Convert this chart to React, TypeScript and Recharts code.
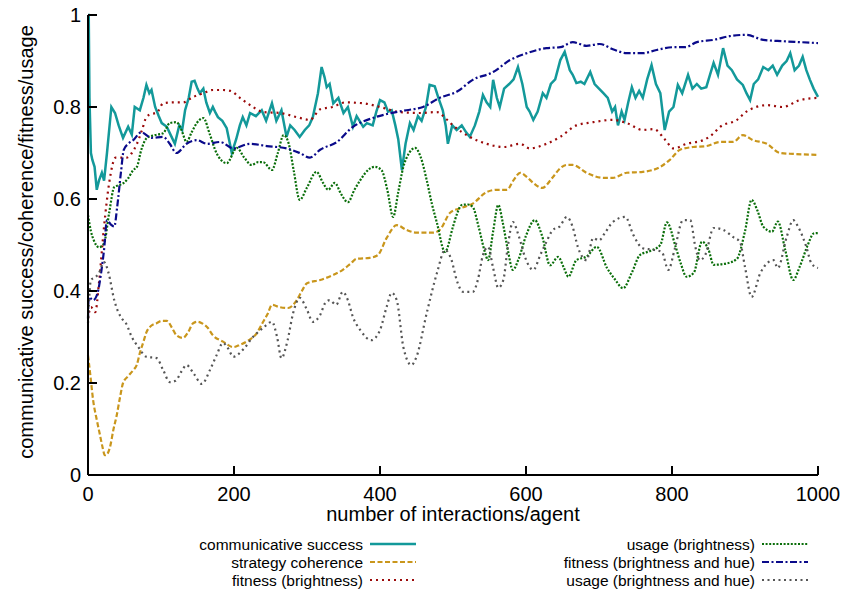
import React from "react";
import { LineChart, Line, XAxis, YAxis, Label } from "recharts";

// sampled from the reference plot (x = interactions/agent)
const SUCCESS_X = [0, 1, 2, 4, 6, 9, 12, 15, 19, 22, 26, 32, 37, 42, 48, 55, 60, 64, 71, 76, 80, 84, 87, 92, 97, 101, 108, 113, 119, 125, 129, 133, 138, 142, 146, 150, 153, 158, 162, 167, 171, 174, 178, 184, 190, 197, 203, 208, 212, 217, 222, 230, 238, 244, 252, 258, 265, 272, 277, 283, 290, 297, 303, 308, 315, 320, 324, 327, 331, 336, 343, 350, 356, 363, 368, 372, 377, 382, 390, 395, 400, 406, 411, 416, 421, 425, 430, 435, 441, 446, 452, 457, 463, 468, 475, 480, 486, 490, 493, 499, 505, 512, 518, 523, 530, 536, 541, 546, 551, 555, 560, 564, 570, 577, 583, 589, 595, 601, 605, 610, 616, 623, 628, 634, 640, 647, 653, 660, 664, 669, 675, 680, 688, 694, 700, 706, 712, 718, 722, 726, 731, 735, 740, 745, 750, 755, 760, 766, 772, 778, 784, 790, 796, 802, 808, 814, 822, 828, 834, 840, 847, 852, 857, 863, 870, 876, 882, 889, 897, 902, 907, 912, 918, 925, 932, 938, 944, 951, 957, 962, 968, 974, 979, 984, 989, 994, 1000];
const SUCCESS_Y = [1.0, 1.0, 0.82, 0.7, 0.685, 0.67, 0.62, 0.64, 0.657, 0.64, 0.7, 0.8, 0.787, 0.76, 0.733, 0.757, 0.74, 0.8, 0.793, 0.82, 0.848, 0.83, 0.837, 0.8, 0.78, 0.765, 0.757, 0.74, 0.72, 0.76, 0.75, 0.793, 0.82, 0.855, 0.857, 0.84, 0.83, 0.84, 0.81, 0.787, 0.8, 0.79, 0.778, 0.77, 0.754, 0.7, 0.73, 0.76, 0.778, 0.76, 0.787, 0.78, 0.793, 0.77, 0.808, 0.77, 0.793, 0.735, 0.76, 0.75, 0.735, 0.75, 0.76, 0.778, 0.83, 0.887, 0.865, 0.843, 0.85, 0.808, 0.82, 0.787, 0.8, 0.757, 0.78, 0.77, 0.757, 0.765, 0.76, 0.79, 0.815, 0.81, 0.79, 0.793, 0.76, 0.73, 0.663, 0.72, 0.765, 0.75, 0.78, 0.77, 0.8, 0.848, 0.845, 0.82, 0.793, 0.76, 0.72, 0.76, 0.75, 0.76, 0.745, 0.735, 0.76, 0.79, 0.826, 0.81, 0.8, 0.859, 0.82, 0.8, 0.84, 0.85, 0.86, 0.887, 0.85, 0.8, 0.79, 0.772, 0.79, 0.83, 0.82, 0.85, 0.86, 0.902, 0.92, 0.88, 0.87, 0.852, 0.855, 0.85, 0.876, 0.85, 0.84, 0.83, 0.82, 0.79, 0.8, 0.76, 0.79, 0.772, 0.81, 0.843, 0.82, 0.835, 0.82, 0.86, 0.891, 0.85, 0.83, 0.75, 0.79, 0.8, 0.848, 0.83, 0.87, 0.84, 0.85, 0.84, 0.843, 0.87, 0.896, 0.87, 0.928, 0.89, 0.88, 0.86, 0.848, 0.83, 0.815, 0.85, 0.86, 0.887, 0.88, 0.89, 0.87, 0.89, 0.9, 0.917, 0.88, 0.89, 0.909, 0.88, 0.859, 0.84, 0.822];

const COHERENCE_X = [0, 3, 7, 12, 16, 20, 23, 26, 30, 35, 39, 44, 48, 55, 62, 67, 71, 76, 80, 87, 94, 101, 108, 115, 121, 130, 137, 144, 150, 156, 164, 171, 185, 199, 208, 217, 231, 240, 246, 252, 262, 274, 286, 293, 300, 318, 336, 349, 360, 368, 386, 397, 409, 423, 436, 450, 473, 482, 496, 510, 527, 546, 560, 574, 583, 592, 601, 610, 622, 637, 647, 656, 664, 683, 706, 719, 738, 760, 784, 797, 811, 829, 847, 866, 884, 897, 911, 930, 948, 966, 1000];
const COHERENCE_Y = [0.26, 0.22, 0.163, 0.12, 0.09, 0.06, 0.043, 0.045, 0.06, 0.1, 0.127, 0.17, 0.2, 0.215, 0.228, 0.24, 0.265, 0.29, 0.31, 0.325, 0.33, 0.335, 0.335, 0.32, 0.304, 0.298, 0.31, 0.33, 0.333, 0.33, 0.32, 0.304, 0.29, 0.278, 0.283, 0.29, 0.308, 0.333, 0.35, 0.37, 0.365, 0.363, 0.38, 0.4, 0.417, 0.424, 0.435, 0.446, 0.46, 0.47, 0.472, 0.478, 0.515, 0.543, 0.533, 0.527, 0.527, 0.533, 0.57, 0.58, 0.59, 0.615, 0.62, 0.62, 0.641, 0.657, 0.648, 0.635, 0.624, 0.648, 0.667, 0.674, 0.674, 0.657, 0.646, 0.646, 0.657, 0.659, 0.67, 0.685, 0.707, 0.713, 0.715, 0.724, 0.724, 0.739, 0.728, 0.72, 0.7, 0.698, 0.696];

const FIT_B_X = [0, 4, 10, 15, 22, 29, 38, 46, 53, 60, 67, 74, 80, 87, 94, 103, 117, 130, 144, 158, 171, 183, 195, 208, 226, 240, 263, 286, 304, 318, 335, 352, 377, 400, 427, 455, 478, 490, 500, 523, 546, 569, 592, 605, 628, 647, 669, 692, 719, 738, 760, 775, 790, 802, 820, 843, 855, 866, 889, 902, 930, 952, 975, 1000];
const FIT_B_Y = [0.34, 0.365, 0.354, 0.417, 0.54, 0.635, 0.69, 0.69, 0.69, 0.7, 0.72, 0.75, 0.778, 0.785, 0.787, 0.808, 0.81, 0.81, 0.822, 0.83, 0.837, 0.837, 0.835, 0.82, 0.8, 0.789, 0.787, 0.778, 0.772, 0.795, 0.8, 0.81, 0.808, 0.8, 0.789, 0.787, 0.789, 0.775, 0.76, 0.735, 0.72, 0.713, 0.72, 0.71, 0.72, 0.735, 0.76, 0.767, 0.772, 0.765, 0.75, 0.752, 0.73, 0.71, 0.72, 0.728, 0.74, 0.757, 0.772, 0.79, 0.804, 0.8, 0.815, 0.82];

const USAGE_B_X = [0, 4, 8, 15, 22, 29, 36, 42, 49, 55, 62, 67, 73, 81, 92, 103, 112, 121, 128, 135, 142, 149, 158, 167, 176, 190, 204, 214, 224, 233, 240, 252, 260, 268, 275, 282, 290, 300, 313, 322, 329, 338, 347, 356, 365, 373, 385, 393, 402, 410, 418, 425, 432, 440, 448, 456, 464, 471, 478, 489, 500, 506, 512, 520, 527, 535, 544, 548, 555, 562, 568, 575, 582, 590, 600, 612, 622, 633, 644, 652, 658, 669, 683, 697, 711, 722, 733, 745, 756, 770, 784, 793, 805, 812, 820, 830, 841, 850, 857, 875, 889, 900, 909, 917, 925, 937, 945, 955, 966, 975, 986, 994, 1000];
const USAGE_B_Y = [0.565, 0.53, 0.51, 0.495, 0.504, 0.57, 0.626, 0.63, 0.635, 0.645, 0.663, 0.67, 0.707, 0.733, 0.739, 0.743, 0.765, 0.767, 0.75, 0.724, 0.745, 0.765, 0.776, 0.74, 0.7, 0.678, 0.711, 0.69, 0.674, 0.68, 0.68, 0.663, 0.7, 0.739, 0.72, 0.66, 0.598, 0.625, 0.659, 0.635, 0.62, 0.635, 0.61, 0.593, 0.62, 0.641, 0.665, 0.67, 0.663, 0.62, 0.561, 0.615, 0.67, 0.7, 0.711, 0.69, 0.641, 0.59, 0.548, 0.485, 0.54, 0.57, 0.587, 0.588, 0.583, 0.54, 0.483, 0.467, 0.53, 0.587, 0.55, 0.49, 0.446, 0.47, 0.52, 0.554, 0.52, 0.456, 0.474, 0.45, 0.431, 0.467, 0.475, 0.496, 0.45, 0.425, 0.406, 0.44, 0.478, 0.487, 0.5, 0.549, 0.496, 0.46, 0.431, 0.44, 0.507, 0.49, 0.457, 0.46, 0.47, 0.53, 0.598, 0.575, 0.54, 0.529, 0.551, 0.49, 0.424, 0.453, 0.5, 0.525, 0.526];

const FIT_BH_X = [0, 1, 7, 13, 18, 22, 26, 31, 36, 40, 45, 49, 55, 62, 73, 87, 103, 112, 121, 135, 149, 163, 181, 199, 222, 245, 272, 290, 304, 318, 341, 363, 390, 410, 436, 459, 482, 505, 527, 555, 578, 601, 628, 647, 664, 683, 701, 720, 738, 760, 779, 802, 818, 834, 857, 879, 902, 925, 952, 975, 1000];
const FIT_BH_Y = [0.34, 0.387, 0.38, 0.395, 0.44, 0.49, 0.554, 0.545, 0.54, 0.583, 0.656, 0.707, 0.72, 0.728, 0.745, 0.733, 0.735, 0.72, 0.7, 0.72, 0.728, 0.72, 0.724, 0.71, 0.72, 0.715, 0.71, 0.7, 0.69, 0.707, 0.724, 0.757, 0.776, 0.785, 0.793, 0.8, 0.82, 0.833, 0.859, 0.876, 0.902, 0.917, 0.928, 0.93, 0.941, 0.933, 0.937, 0.925, 0.917, 0.917, 0.924, 0.93, 0.93, 0.941, 0.946, 0.954, 0.957, 0.946, 0.943, 0.941, 0.939];

const USAGE_BH_X = [0, 4, 10, 15, 22, 28, 36, 45, 52, 60, 69, 80, 94, 103, 112, 120, 128, 135, 145, 156, 167, 176, 185, 192, 199, 212, 226, 240, 252, 259, 265, 273, 281, 290, 300, 308, 318, 325, 331, 340, 349, 356, 363, 373, 388, 400, 409, 416, 423, 432, 443, 450, 464, 478, 489, 498, 505, 514, 527, 534, 541, 548, 555, 562, 569, 575, 582, 590, 599, 610, 620, 628, 637, 646, 656, 664, 671, 683, 692, 700, 708, 719, 736, 747, 760, 773, 786, 795, 804, 815, 825, 832, 838, 846, 857, 870, 884, 893, 900, 909, 921, 939, 945, 957, 966, 973, 984, 991, 1000];
const USAGE_BH_Y = [0.33, 0.424, 0.43, 0.439, 0.463, 0.44, 0.38, 0.343, 0.33, 0.3, 0.278, 0.257, 0.254, 0.228, 0.202, 0.205, 0.225, 0.239, 0.22, 0.198, 0.228, 0.26, 0.287, 0.275, 0.257, 0.272, 0.3, 0.32, 0.333, 0.3, 0.254, 0.29, 0.352, 0.385, 0.359, 0.333, 0.348, 0.374, 0.38, 0.37, 0.398, 0.38, 0.343, 0.315, 0.293, 0.315, 0.365, 0.396, 0.38, 0.278, 0.239, 0.257, 0.352, 0.439, 0.489, 0.467, 0.424, 0.398, 0.398, 0.424, 0.478, 0.496, 0.45, 0.407, 0.424, 0.496, 0.55, 0.52, 0.472, 0.446, 0.48, 0.507, 0.533, 0.54, 0.561, 0.539, 0.496, 0.467, 0.515, 0.51, 0.526, 0.55, 0.561, 0.522, 0.493, 0.49, 0.485, 0.446, 0.493, 0.554, 0.554, 0.496, 0.467, 0.48, 0.537, 0.533, 0.517, 0.507, 0.452, 0.387, 0.439, 0.467, 0.45, 0.517, 0.554, 0.539, 0.496, 0.46, 0.45];

const X_TICKS = [0, 200, 400, 600, 800, 1000];
const Y_TICKS = [0, 0.2, 0.4, 0.6, 0.8, 1];

const toPoints = (xs: number[], ys: number[]) => xs.map((x, i) => ({ x, y: ys[i] }));

// the hue-fitness series is bound to the mirrored top/right axes (same domains) so those axes get drawn
const SERIES = [
  { name: "communicative success", color: "#13999a", dash: undefined, width: 2.5, type: "linear", data: toPoints(SUCCESS_X, SUCCESS_Y), col: 0, row: 0, xId: "bottom", yId: "left" },
  { name: "strategy coherence", color: "#c9961c", dash: "5 2.5", width: 2.2, type: "monotone", data: toPoints(COHERENCE_X, COHERENCE_Y), col: 0, row: 1, xId: "bottom", yId: "left" },
  { name: "fitness (brightness)", color: "#9b0a0a", dash: "2 4", width: 2.2, type: "monotone", data: toPoints(FIT_B_X, FIT_B_Y), col: 0, row: 2, xId: "bottom", yId: "left" },
  { name: "usage (brightness)", color: "#0a6e0a", dash: "2 1.6", width: 2.2, type: "monotone", data: toPoints(USAGE_B_X, USAGE_B_Y), col: 1, row: 0, xId: "bottom", yId: "left" },
  { name: "fitness (brightness and hue)", color: "#0a0a8a", dash: "7 2.5 2 2.5", width: 2.2, type: "monotone", data: toPoints(FIT_BH_X, FIT_BH_Y), col: 1, row: 1, xId: "top", yId: "right" },
  { name: "usage (brightness and hue)", color: "#555555", dash: "2 3.5", width: 2.2, type: "monotone", data: toPoints(USAGE_BH_X, USAGE_BH_Y), col: 1, row: 2, xId: "bottom", yId: "left" },
];

const FONT = "'Liberation Sans', Arial, Helvetica, sans-serif";
const border = { stroke: "#000", strokeWidth: 2 };
const TICK_LEN = 9;
const X_GAP = 12; // label offset below the frame
const Y_GAP = 7; // label offset left of the frame

// gnuplot-style ticks: short marks pointing into the plot, labels outside
function BottomTick({ x, y, payload }: any) {
  const base = Number(y) - X_GAP;
  return (
    <g>
      <line x1={x} x2={x} y1={base} y2={base - TICK_LEN} stroke="#000" strokeWidth={2} />
      <text x={x} y={y} dy="0.71em" textAnchor="middle" fontSize={20} fontFamily={FONT} fill="#000">
        {payload.value}
      </text>
    </g>
  );
}

function LeftTick({ x, y, payload }: any) {
  const base = Number(x) + Y_GAP;
  return (
    <g>
      <line x1={base} x2={base + TICK_LEN} y1={y} y2={y} stroke="#000" strokeWidth={2} />
      <text x={x} y={y} dy="0.355em" textAnchor="end" fontSize={20} fontFamily={FONT} fill="#000">
        {payload.value}
      </text>
    </g>
  );
}

function TopTick({ x, y }: any) {
  return <line x1={x} x2={x} y1={Number(y)} y2={Number(y) + TICK_LEN} stroke="#000" strokeWidth={2} />;
}

function RightTick({ x, y }: any) {
  return <line x1={Number(x)} x2={Number(x) - TICK_LEN} y1={y} y2={y} stroke="#000" strokeWidth={2} />;
}

function YTitle(props: any) {
  const vb = props.viewBox || { x: 28, y: 15, width: 60, height: 460 };
  const cx = vb.x + 5;
  const cy = vb.y + vb.height / 2 - 3;
  return (
    <text x={cx} y={cy} transform={`rotate(-90, ${cx}, ${cy})`} textAnchor="middle" fontSize={20} fontFamily={FONT} fill="#000">
      communicative success/coherence/fitness/usage
    </text>
  );
}

function XTitle(props: any) {
  const vb = props.viewBox || { x: 88, y: 475, width: 730, height: 60 };
  return (
    <text x={vb.x + vb.width / 2} y={vb.y + 46} textAnchor="middle" fontSize={20} fontFamily={FONT} fill="#000">
      number of interactions/agent
    </text>
  );
}

function KeyBox() {
  const textEnd = [363, 755];
  return (
    <svg width={846} height={592} style={{ position: "absolute", left: 0, top: 0, pointerEvents: "none" }}>
      {SERIES.map((s) => {
        const y = 544 + s.row * 18;
        const x = textEnd[s.col];
        return (
          <g key={s.name}>
            <text x={x} y={y + 5.5} textAnchor="end" fontSize={15.5} fontFamily={FONT} fill="#000">
              {s.name}
            </text>
            <line x1={x + 7} x2={x + 53} y1={y} y2={y} stroke={s.color} strokeWidth={s.width} strokeDasharray={s.dash} />
          </g>
        );
      })}
    </svg>
  );
}

export default function App() {
  return (
    <div style={{ position: "absolute", left: 0, top: 0, width: 846, height: 592, background: "#fff" }}>
      <LineChart width={846} height={592} margin={{ top: 15, right: 28, bottom: 57, left: 28 }}>
        <XAxis
          xAxisId="bottom"
          dataKey="x"
          type="number"
          domain={[0, 1000]}
          ticks={X_TICKS}
          height={60}
          tickSize={0}
          tickMargin={X_GAP}
          tick={<BottomTick />}
          tickLine={false}
          axisLine={border}
        >
          <Label content={<XTitle />} />
        </XAxis>
        <XAxis
          xAxisId="top"
          orientation="top"
          dataKey="x"
          type="number"
          domain={[0, 1000]}
          ticks={X_TICKS}
          height={0}
          tickSize={0}
          tickMargin={0}
          tick={<TopTick />}
          tickLine={false}
          axisLine={border}
        />
        <YAxis
          yAxisId="left"
          type="number"
          domain={[0, 1]}
          ticks={Y_TICKS}
          width={60}
          tickSize={0}
          tickMargin={Y_GAP}
          tick={<LeftTick />}
          tickLine={false}
          axisLine={border}
        >
          <Label content={<YTitle />} />
        </YAxis>
        <YAxis
          yAxisId="right"
          orientation="right"
          type="number"
          domain={[0, 1]}
          ticks={Y_TICKS}
          width={0}
          tickSize={0}
          tickMargin={0}
          tick={<RightTick />}
          tickLine={false}
          axisLine={border}
        />
        {SERIES.map((s) => (
          <Line
            key={s.name}
            xAxisId={s.xId}
            yAxisId={s.yId}
            data={s.data}
            dataKey="y"
            name={s.name}
            type={s.type as any}
            stroke={s.color}
            strokeWidth={s.width}
            strokeDasharray={s.dash}
            dot={false}
            activeDot={false}
            isAnimationActive={false}
          />
        ))}
      </LineChart>
      <KeyBox />
    </div>
  );
}
